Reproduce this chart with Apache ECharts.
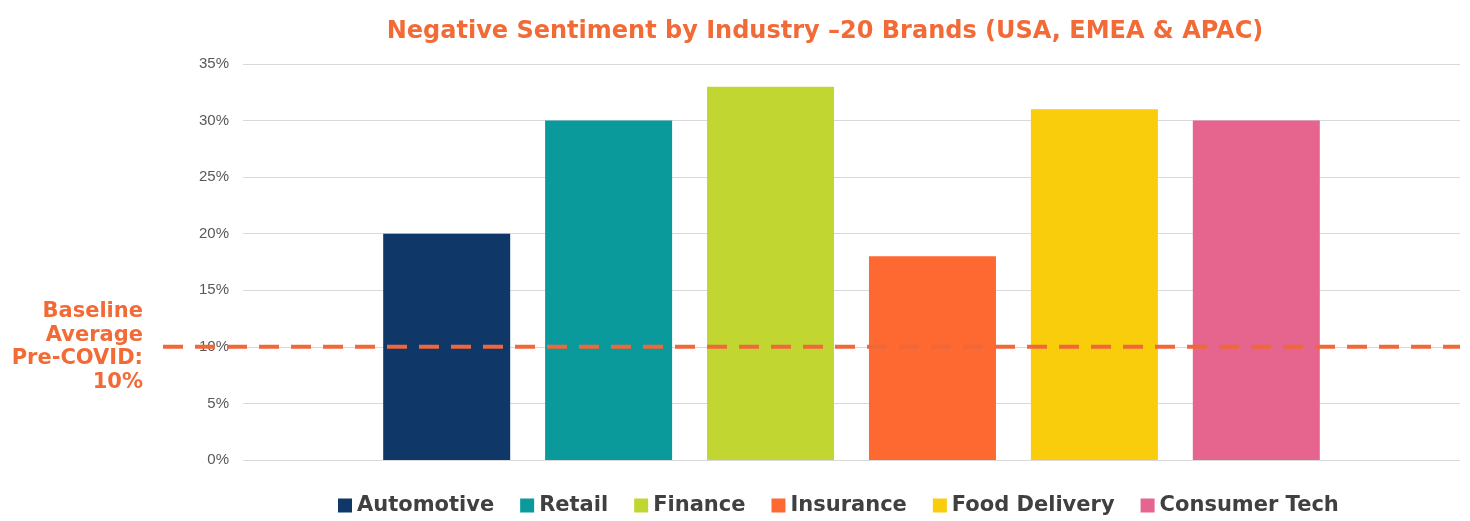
<!DOCTYPE html>
<html>
<head>
<meta charset="utf-8">
<script src="https://cdn.jsdelivr.net/npm/echarts@6/dist/echarts.min.js"></script>
<style>
html,body{margin:0;padding:0;background:#fff;}
#main{width:1470px;height:521px;}
</style>
</head>
<body>
<div id="main"></div>
<script>
const titleText = 'Negative Sentiment by Industry \u201320 Brands (USA, EMEA & APAC)';
const industries = ['Automotive', 'Retail', 'Finance', 'Insurance', 'Food Delivery', 'Consumer Tech'];
const values = [20, 30, 33, 18, 31, 30];
const colors = ['#0f3768', '#0a9a9b', '#c2d631', '#fd6930', '#f9cc0c', '#e5658f'];
const baselineValue = 10;
const baselineLabel = 'Baseline\nAverage\nPre-COVID:\n10%';
const yMin = 0, yMax = 35, yStep = 5;

const chart = echarts.init(document.getElementById('main'));

const barSeries = industries.map((name, i) => ({
  name: name,
  type: 'bar',
  xAxisIndex: 0,
  yAxisIndex: 0,
  data: [values[i]],
  barWidth: 127,
  barGap: '27.5%',
  itemStyle: { color: colors[i] },
  z: 2
}));

chart.setOption({
  animation: false,
  backgroundColor: '#ffffff',
  title: {
    text: titleText,
    left: 820,
    textAlign: 'center',
    top: 15,
    textStyle: { color: '#f26a36', fontSize: 24, fontWeight: 'bold', fontFamily: 'DejaVu Sans' }
  },
  legend: {
    data: industries,
    bottom: 0,
    left: 333,
    icon: 'rect',
    itemWidth: 14,
    itemHeight: 14,
    itemGap: 26,
    textStyle: { color: '#404040', fontSize: 21, fontWeight: 'bold', fontFamily: 'DejaVu Sans' }
  },
  graphic: [{
    type: 'text',
    right: 1470 - 143,
    top: 300,
    style: {
      text: baselineLabel,
      fill: '#f26a36',
      font: 'bold 21px "DejaVu Sans"',
      textAlign: 'right',
      lineHeight: 23.5
    }
  }],
  grid: [
    { left: 243, right: 10, top: 64, bottom: 61 },
    { left: 163, right: 10, top: 64, bottom: 61 }
  ],
  xAxis: [
    { type: 'category', gridIndex: 0, data: [''], axisLine: { show: false }, axisTick: { show: false }, axisLabel: { show: false } },
    { type: 'value', gridIndex: 1, min: 0, max: 1, show: false }
  ],
  yAxis: [
    {
      type: 'value', gridIndex: 0, min: yMin, max: yMax, interval: yStep,
      axisLine: { show: false }, axisTick: { show: false },
      axisLabel: { formatter: '{value}%', color: '#595959', fontSize: 15, margin: 14, fontFamily: 'Liberation Sans' },
      splitLine: { lineStyle: { color: '#d9d9d9', width: 1 } }
    },
    { type: 'value', gridIndex: 1, min: yMin, max: yMax, interval: yStep, show: false }
  ],
  series: barSeries.concat([{
    name: 'baseline',
    type: 'line',
    xAxisIndex: 1,
    yAxisIndex: 1,
    data: [[0, baselineValue], [1, baselineValue]],
    symbol: 'none',
    lineStyle: { color: '#f0673a', width: 4, type: [20, 12] },
    z: 10
  }])
});
</script>
</body>
</html>
